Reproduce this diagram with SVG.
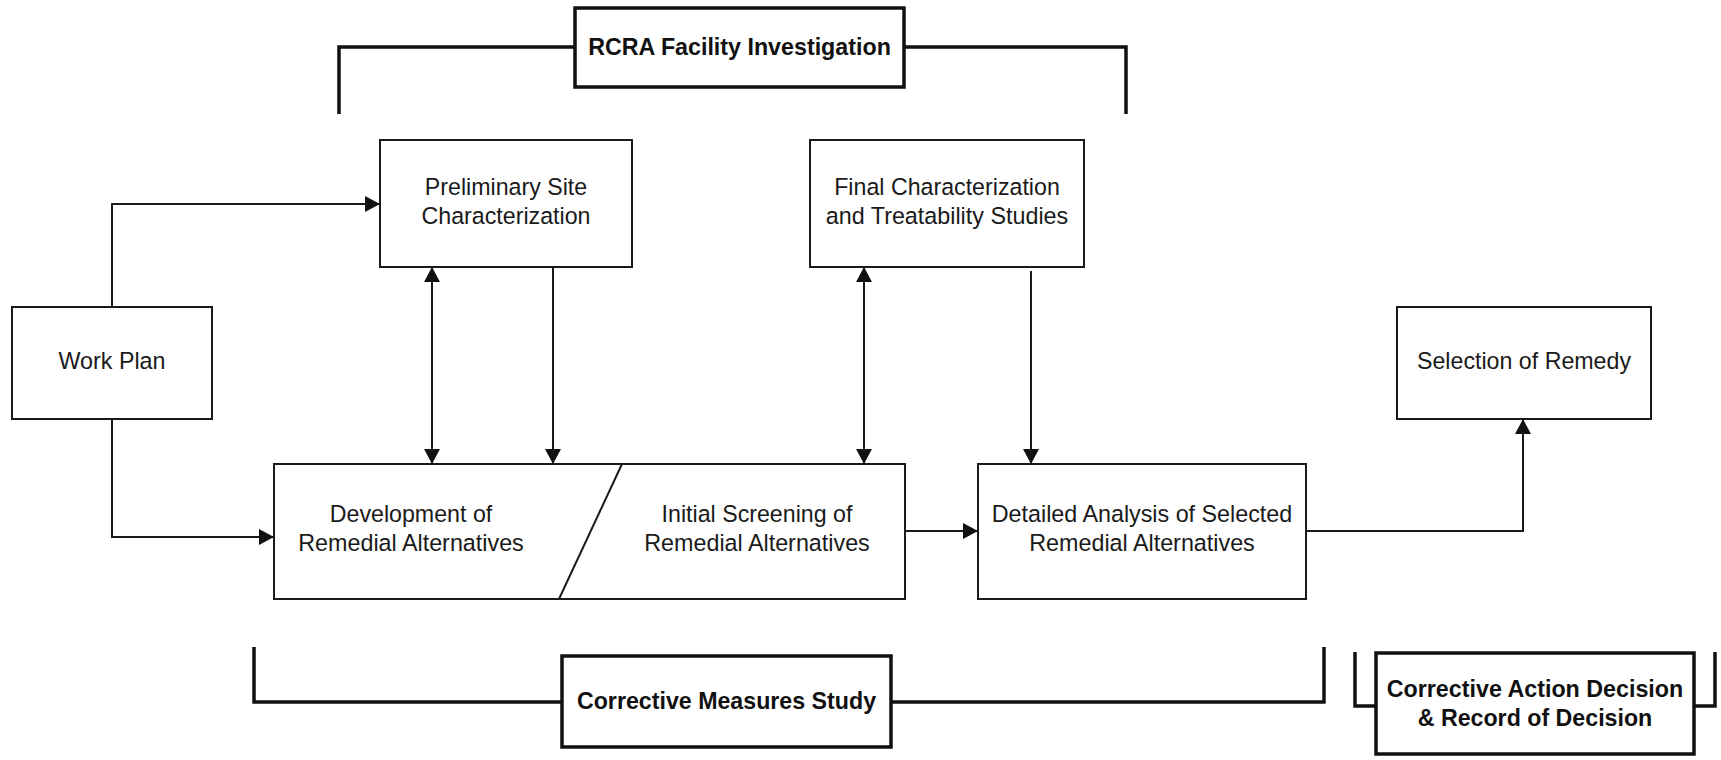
<svg xmlns="http://www.w3.org/2000/svg" width="1721" height="760" viewBox="0 0 1721 760">
  <style>
    .box { fill: #ffffff; stroke: #1a1a1a; stroke-width: 2; }
    .phase { fill: #ffffff; stroke: #111111; stroke-width: 3.5; }
    .lbl { font-family: "Liberation Sans", Arial, sans-serif; font-size: 24.5px; fill: #1a1a1a; text-anchor: middle; }
    .bold { font-weight: bold; fill: #111111; }
    .conn { fill: none; stroke: #1a1a1a; stroke-width: 2; }
    .brk { fill: none; stroke: #111111; stroke-width: 3.5; }
  </style>
  <defs>
    <marker id="arrow" markerUnits="userSpaceOnUse" markerWidth="16" markerHeight="16" refX="15" refY="8" orient="auto-start-reverse">
      <path d="M0,0 L15,8 L0,16 z" fill="#111111"/>
    </marker>
  </defs>

  <!-- phase brackets -->
  <g id="brackets">
    <path class="brk" d="M339,114 V47 H575"/>
    <path class="brk" d="M904,47 H1126 V114"/>
    <path class="brk" d="M254,647 V702 H562"/>
    <path class="brk" d="M891,702 H1324 V647"/>
    <path class="brk" d="M1355,652 V706 H1376"/>
    <path class="brk" d="M1694,706 H1715 V652"/>
  </g>

  <!-- connectors -->
  <g id="connectors">
    <path class="conn" d="M112,307 V204 H380" marker-end="url(#arrow)"/>
    <path class="conn" d="M112,419 V537 H274" marker-end="url(#arrow)"/>
    <path class="conn" d="M432,267 V464" marker-start="url(#arrow)" marker-end="url(#arrow)"/>
    <path class="conn" d="M553,267 V464" marker-end="url(#arrow)"/>
    <path class="conn" d="M864,267 V464" marker-start="url(#arrow)" marker-end="url(#arrow)"/>
    <path class="conn" d="M1031,271 V464" marker-end="url(#arrow)"/>
    <path class="conn" d="M905,531 H978" marker-end="url(#arrow)"/>
    <path class="conn" d="M1306,531 H1523 V419" marker-end="url(#arrow)"/>
  </g>

  <g id="rcra-facility-investigation">
    <rect class="phase" x="575" y="8" width="329" height="79"/>
    <text class="lbl bold" x="739.5" y="55" textLength="302.7" lengthAdjust="spacingAndGlyphs">RCRA Facility Investigation</text>
  </g>

  <g id="work-plan">
    <rect class="box" x="12" y="307" width="200" height="112"/>
    <text class="lbl" x="112" y="369" textLength="107" lengthAdjust="spacingAndGlyphs">Work Plan</text>
  </g>

  <g id="preliminary-site-characterization">
    <rect class="box" x="380" y="140" width="252" height="127"/>
    <text class="lbl" x="506" y="195" textLength="162.4" lengthAdjust="spacingAndGlyphs">Preliminary Site</text>
    <text class="lbl" x="506" y="224" textLength="168.9" lengthAdjust="spacingAndGlyphs">Characterization</text>
  </g>

  <g id="final-characterization">
    <rect class="box" x="810" y="140" width="274" height="127"/>
    <text class="lbl" x="947" y="195" textLength="225.6" lengthAdjust="spacingAndGlyphs">Final Characterization</text>
    <text class="lbl" x="947" y="224" textLength="242.4" lengthAdjust="spacingAndGlyphs">and Treatability Studies</text>
  </g>

  <g id="selection-of-remedy">
    <rect class="box" x="1397" y="307" width="254" height="112"/>
    <text class="lbl" x="1524" y="369" textLength="214" lengthAdjust="spacingAndGlyphs">Selection of Remedy</text>
  </g>

  <g id="remedial-alternatives">
    <rect class="box" x="274" y="464" width="631" height="135"/>
    <line class="conn" x1="622" y1="464" x2="559" y2="599"/>
    <text class="lbl" x="411" y="522" textLength="162.5" lengthAdjust="spacingAndGlyphs">Development of</text>
    <text class="lbl" x="411" y="551" textLength="225.6" lengthAdjust="spacingAndGlyphs">Remedial Alternatives</text>
    <text class="lbl" x="757" y="522" textLength="190.8" lengthAdjust="spacingAndGlyphs">Initial Screening of</text>
    <text class="lbl" x="757" y="551" textLength="225.6" lengthAdjust="spacingAndGlyphs">Remedial Alternatives</text>
  </g>

  <g id="detailed-analysis">
    <rect class="box" x="978" y="464" width="328" height="135"/>
    <text class="lbl" x="1142" y="522" textLength="300.4" lengthAdjust="spacingAndGlyphs">Detailed Analysis of Selected</text>
    <text class="lbl" x="1142" y="551" textLength="225.6" lengthAdjust="spacingAndGlyphs">Remedial Alternatives</text>
  </g>

  <g id="corrective-measures-study">
    <rect class="phase" x="562" y="656" width="329" height="91"/>
    <text class="lbl bold" x="726.5" y="709" textLength="299.1" lengthAdjust="spacingAndGlyphs">Corrective Measures Study</text>
  </g>

  <g id="corrective-action-decision">
    <rect class="phase" x="1376" y="653" width="318" height="101"/>
    <text class="lbl bold" x="1535" y="697" textLength="296.5" lengthAdjust="spacingAndGlyphs">Corrective Action Decision</text>
    <text class="lbl bold" x="1535" y="726" textLength="234.6" lengthAdjust="spacingAndGlyphs">&amp; Record of Decision</text>
  </g>
</svg>
